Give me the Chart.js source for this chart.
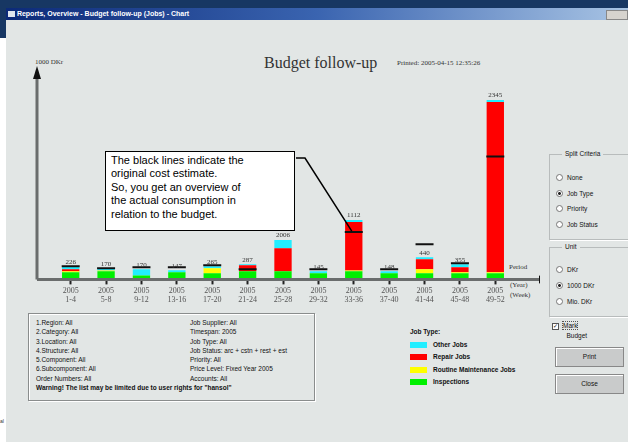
<!DOCTYPE html>
<html>
<head>
<meta charset="utf-8">
<script src="https://cdn.jsdelivr.net/npm/chart.js@4/dist/chart.umd.min.js"></script>
<style>
  body { margin: 0; width: 628px; height: 442px; background: #fff; position: relative; overflow: hidden; font-family: Arial, "Liberation Sans", sans-serif; }
  .abs { position: absolute; white-space: nowrap; }
  #navy { left: 0; top: 0; width: 628px; height: 8px; background: #173763; }
  #navyLeft { left: 0; top: 0; width: 6px; height: 38px; background: #173763; }
  #win { left: 6px; top: 8px; width: 622px; height: 434px; background: #e2e6e5; }
  #titlebar { left: 6px; top: 8px; width: 622px; height: 12px; background: linear-gradient(to right, #0c2a78, #3a64b0 50%, #a8c4e4); color: #fff; font: bold 7px Arial, sans-serif; line-height: 12px; }
  #chartWrap { left: 20px; top: 40px; }
  .small { font: 6.5px Arial, sans-serif; color: #111; line-height: 9.3px; }
  #filters { left: 28px; top: 313px; width: 285px; height: 86px; border: 1px solid #8a8d8d; box-shadow: inset 1px 1px 0 #fff, 1px 1px 0 #fff; }
  .serif { font-family: "Liberation Serif", "DejaVu Serif", serif; color: #333; }
  .grp { border: 1px solid #b8bcbc; box-shadow: 1px 1px 0 #fff; }
  .btn { background: #c9cbcb; border: 1px solid #888; box-shadow: inset 1px 1px 0 #fff; font: 6.5px Arial, sans-serif; text-align: center; line-height: 17px; color: #111; }
  .rb { font: 6.5px Arial, sans-serif; color: #111; }
  .rb i { display: inline-block; width: 5px; height: 5px; border: 1px solid #777; border-radius: 50%; background: #fff; margin-right: 4px; vertical-align: -1px; font-style: normal; }
  .rb i.on { background: radial-gradient(#222 35%, #fff 45%); }
</style>
</head>
<body>
<div id="navy" class="abs"></div>
<div id="navyLeft" class="abs"></div>
<div id="win" class="abs"></div>
<div id="titlebar" class="abs">&nbsp;<span style="display:inline-block;width:7px;height:6px;background:#dfe6ee;vertical-align:-1px"></span> Reports, Overview - Budget follow-up (Jobs) - Chart</div>
<div class="abs" style="left:606px;top:10px;width:20px;height:8px;background:#d6d3ce;border:1px solid #888"></div>
<div class="abs" style="left:0;top:418px;font:5px Arial;color:#333">al</div>

<div class="abs serif" style="left:35px;top:58px;font-size:7px;">1000 DKr</div>
<div class="abs serif" style="left:264px;top:54px;font-size:16px;">Budget follow-up</div>
<div class="abs serif" style="left:397px;top:59px;font-size:7px;">Printed: 2005-04-15 12:35:26</div>
<div class="abs serif" style="left:509px;top:263px;font-size:7px;">Period</div>
<div class="abs serif" style="left:510px;top:281px;font-size:7px;line-height:9.5px;">(Year)<br>(Week)</div>

<div id="chartWrap" class="abs"><canvas id="chart" width="520" height="270"></canvas></div>

<div class="abs" style="left:105px;top:151px;width:190px;height:80px;background:#fff;border:1px solid #000;font:11px Arial, 'Liberation Sans', sans-serif;line-height:13.4px;padding:2px 0 0 5px;box-sizing:border-box;color:#000">The black lines indicate the<br>original cost estimate.<br>So, you get an overview of<br>the actual consumption in<br>relation to the budget.</div>

<div id="filters" class="abs"></div>
<div class="abs small" style="left:36px;top:318px;">1.Region: All<br>2.Category: All<br>3.Location: All<br>4.Structure: All<br>5.Component: All<br>6.Subcomponent: All<br>Order Numbers: All<br><b>Warning! The list may be limited due to user rights for "hansol"</b></div>
<div class="abs small" style="left:190px;top:318px;">Job Supplier: All<br>Timespan: 2005<br>Job Type: All<br>Job Status: arc + cstn + rest + est<br>Priority: All<br>Price Level: Fixed Year 2005<br>Accounts: All</div>

<div id="legend" class="abs small" style="left:410px;top:326px;line-height:12.6px;"></div>

<div class="abs grp" style="left:549px;top:154px;width:79px;height:84px;"></div>
<div class="abs rb" style="left:562px;top:150px;background:#e2e6e5;padding:0 3px;">Split Criteria</div>
<div class="abs rb" style="left:556px;top:170px;line-height:15.6px;"><i></i>None<br><i class="on"></i>Job Type<br><i></i>Priority<br><i></i>Job Status</div>
<div class="abs grp" style="left:549px;top:247px;width:79px;height:68px;"></div>
<div class="abs rb" style="left:562px;top:243px;background:#e2e6e5;padding:0 3px;">Unit</div>
<div class="abs rb" style="left:556px;top:262px;line-height:16px;"><i></i>DKr<br><i class="on"></i>1000 DKr<br><i></i>Mio. DKr</div>
<div class="abs rb" style="left:552px;top:321px;line-height:10px;"><span style="display:inline-block;width:5px;height:5px;border:1px solid #555;background:#fff;margin-right:3px;font-size:6px;line-height:5px;text-align:center">&#10003;</span><span style="border:1px dotted #555">Mark</span><br>&nbsp;&nbsp;&nbsp;&nbsp;&nbsp;&nbsp;&nbsp;&nbsp;Budget</div>
<div class="abs btn" style="left:555px;top:347px;width:67px;height:18px;">Print</div>
<div class="abs btn" style="left:555px;top:374px;width:67px;height:18px;">Close</div>

<script>
// periods (year / week range)
const periods = [
    ['2005', '1-4'], ['2005', '5-8'], ['2005', '9-12'], ['2005', '13-16'],
    ['2005', '17-20'], ['2005', '21-24'], ['2005', '25-28'], ['2005', '29-32'],
    ['2005', '33-36'], ['2005', '37-40'], ['2005', '41-44'], ['2005', '45-48'],
    ['2005', '49-52']
];

// 1000 DKr per job type
const inspections = [80, 93, 40, 80, 67, 93, 93, 67, 93, 67, 67, 67, 67];
const routineJobs = [13, 13, 0, 0, 67, 0, 0, 0, 13, 0, 53, 13, 13];
const repairJobs = [27, 0, 0, 0, 0, 80, 307, 0, 640, 0, 133, 67, 2253];
const otherJobs = [40, 27, 80, 27, 27, 13, 107, 27, 27, 27, 27, 40, 27];

// original cost estimate (black lines)
const budget = [160, 133, 147, 147, 173, 120, null, 120, 613, 120, 453, 200, 1613];

// printed totals above the bars
const totalLabels = ['226', '170', '170', '147', '265', '287', '2006', '145', '1112', '148', '440', '355', '2345'];

const yMax = 2850;

const axisArrows = {
    id: 'axisArrows',
    afterDraw(chart) {
        const ctx = chart.ctx;
        const area = chart.chartArea;
        const x0 = area.left - 16;
        const y0 = area.bottom + 1;
        ctx.save();
        ctx.strokeStyle = '#6a6d6d';
        ctx.fillStyle = '#111';
        ctx.lineWidth = 3;
        ctx.beginPath();
        ctx.moveTo(x0, y0);
        ctx.lineTo(area.right + 30, y0);
        ctx.moveTo(x0, y0);
        ctx.lineTo(x0, area.top + 12);
        ctx.stroke();
        // arrow heads
        ctx.beginPath();
        ctx.moveTo(area.right + 42, y0);
        ctx.lineTo(area.right + 26, y0 - 4);
        ctx.lineTo(area.right + 26, y0 + 4);
        ctx.closePath();
        ctx.fill();
        ctx.beginPath();
        ctx.moveTo(x0, area.top + 3);
        ctx.lineTo(x0 - 4, area.top + 16);
        ctx.lineTo(x0 + 4, area.top + 16);
        ctx.closePath();
        ctx.fill();

        // callout line to the budget mark of weeks 33-36
        const pt = chart.getDatasetMeta(4).data[8];
        ctx.strokeStyle = '#000';
        ctx.lineWidth = 1.5;
        ctx.beginPath();
        ctx.moveTo(276, 118);
        ctx.lineTo(285, 118);
        ctx.lineTo(pt.x - 2, pt.y - 1);
        ctx.stroke();
        ctx.restore();
    },
    afterDatasetsDraw(chart) {
        const ctx = chart.ctx;
        const top = chart.getDatasetMeta(3);
        ctx.save();
        ctx.font = '7px "Liberation Serif", serif';
        ctx.fillStyle = '#333';
        ctx.textAlign = 'center';
        ctx.textBaseline = 'bottom';
        top.data.forEach((bar, i) => {
            ctx.fillText(totalLabels[i], bar.x, bar.y - 1);
        });
        ctx.restore();
    }
};

const chart = new Chart(document.getElementById('chart').getContext('2d'), {
    type: 'bar',
    data: {
        labels: periods,
        datasets: [
            { label: 'Inspections', data: inspections, backgroundColor: '#00f000', order: 1 },
            { label: 'Routine Maintenance Jobs', data: routineJobs, backgroundColor: '#ffff00', order: 1 },
            { label: 'Repair Jobs', data: repairJobs, backgroundColor: '#ff0000', order: 1 },
            { label: 'Other Jobs', data: otherJobs, backgroundColor: '#22eeff', order: 1 },
            {
                type: 'line', label: 'Budget', data: budget, stack: 'budget', order: 0,
                showLine: false, pointStyle: 'line', pointRadius: 9, pointBorderWidth: 2,
                borderColor: '#111', backgroundColor: '#111'
            }
        ]
    },
    options: {
        responsive: false,
        animation: false,
        layout: { padding: { left: 33, right: 27, top: 23, bottom: 4 } },
        datasets: { bar: { categoryPercentage: 1, barPercentage: 0.49 } },
        plugins: { legend: { display: false }, tooltip: { enabled: false } },
        scales: {
            x: {
                stacked: true,
                border: { display: false },
                grid: { display: true, offset: false, drawOnChartArea: false, tickLength: 6, tickColor: '#222', tickWidth: 2 },
                ticks: { color: '#555', font: { size: 8, family: '"Liberation Serif", serif', lineHeight: 1.1 }, padding: 2, maxRotation: 0 }
            },
            y: { stacked: true, display: false, min: 0, max: yMax }
        }
    },
    plugins: [axisArrows]
});

// legend, built from the bar datasets (top of stack first)
const legendBox = document.getElementById('legend');
let html = '<b>Job Type:</b><br>';
chart.data.datasets.slice(0, 4).reverse().forEach(ds => {
    html += '<span style="display:inline-block;width:17px;height:6px;background:' + ds.backgroundColor +
        ';vertical-align:-1px;margin-right:6px"></span><b>' + ds.label + '</b><br>';
});
legendBox.innerHTML = html;
</script>
</body>
</html>
